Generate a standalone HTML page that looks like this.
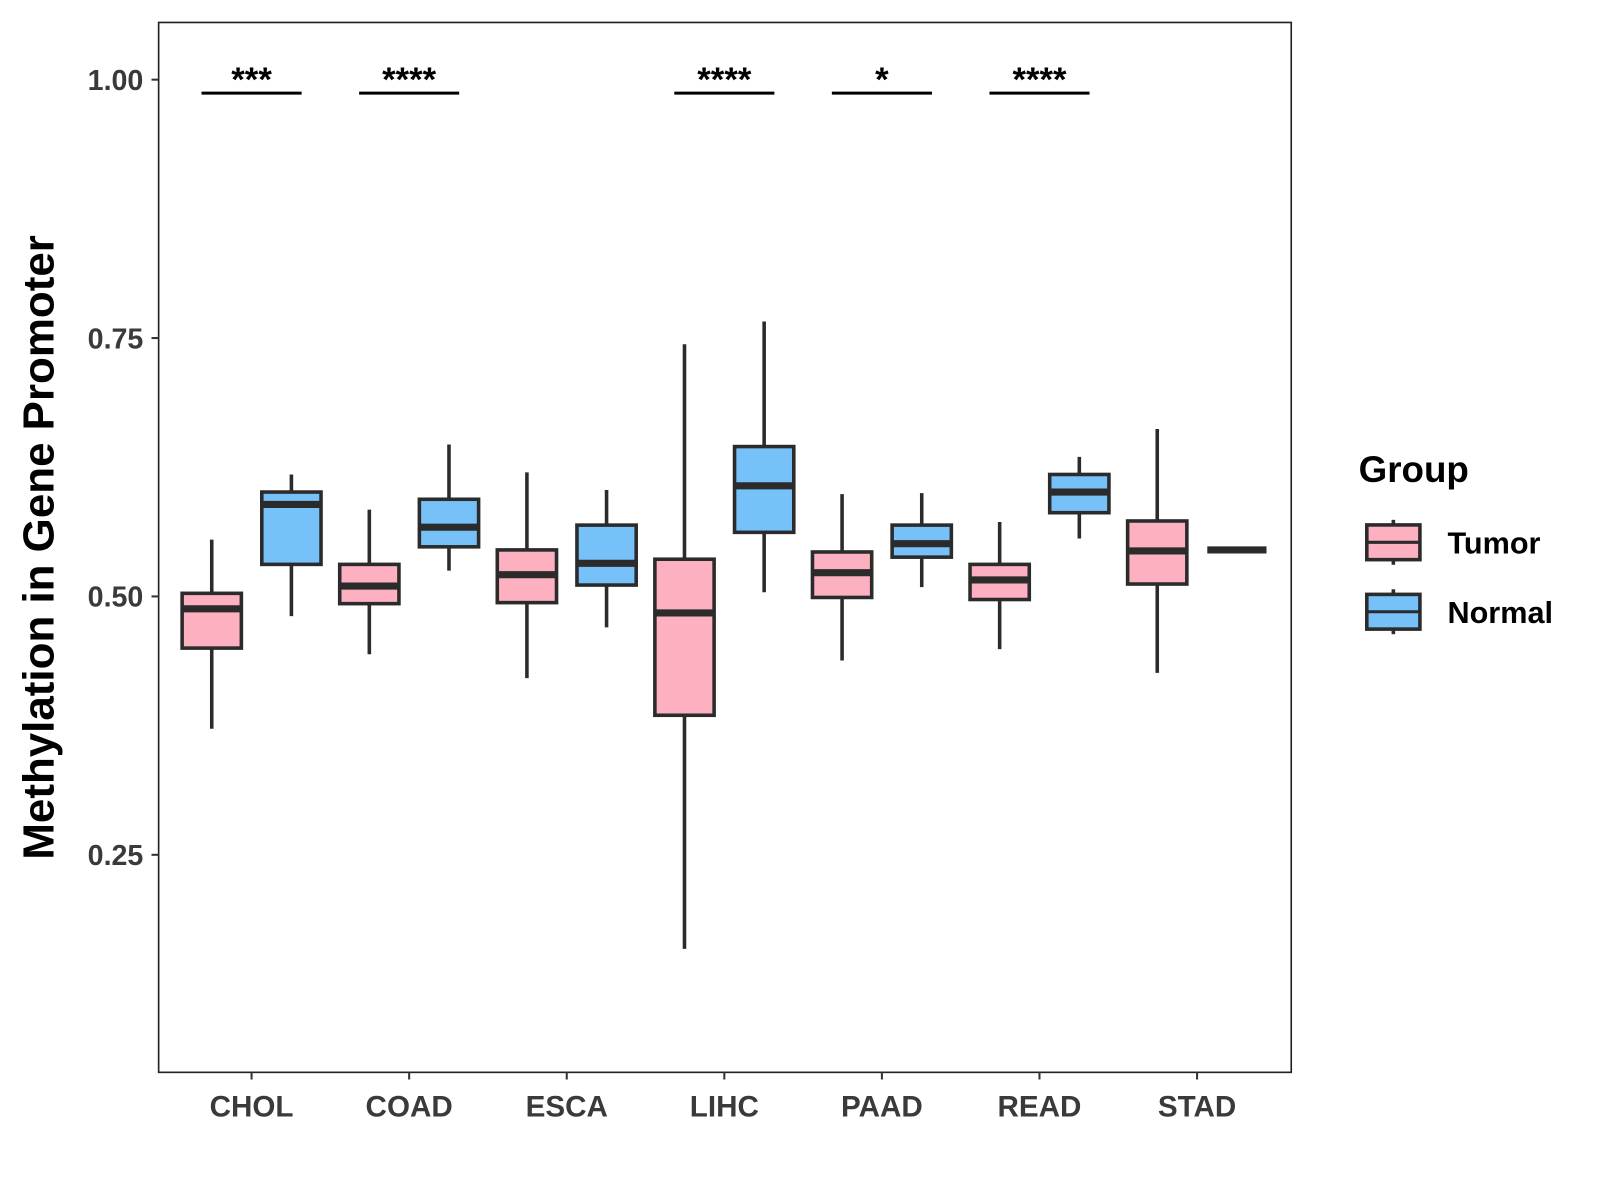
<!DOCTYPE html>
<html><head><meta charset="utf-8"><style>html,body{margin:0;padding:0;background:#fff}svg{display:block}</style></head>
<body>
<svg id="chart" width="1600" height="1200" viewBox="0 0 1566 1175" xmlns="http://www.w3.org/2000/svg" font-family="Liberation Sans, Arial, sans-serif">
<rect width="1566" height="1175" fill="#fff"/>
<g id="plot"></g>
</svg>
<script>
const categories = ["CHOL","COAD","ESCA","LIHC","PAAD","READ","STAD"];
// [lowWhisker, q1, median, q3, highWhisker]
const tumorStats = [
 [0.372,0.450,0.488,0.503,0.555],
 [0.444,0.493,0.510,0.531,0.584],
 [0.421,0.494,0.521,0.545,0.620],
 [0.159,0.385,0.484,0.536,0.744],
 [0.438,0.499,0.523,0.543,0.599],
 [0.449,0.497,0.516,0.531,0.572],
 [0.426,0.512,0.544,0.573,0.662]];
const normalStats = [
 [0.481,0.531,0.589,0.601,0.618],
 [0.525,0.548,0.567,0.594,0.647],
 [0.470,0.511,0.532,0.569,0.603],
 [0.504,0.562,0.607,0.645,0.766],
 [0.509,0.538,0.551,0.569,0.600],
 [0.556,0.581,0.601,0.618,0.635],
 [0.545,0.545,0.545,0.545,0.545]];
const sigLabels = ["***","****","","****","*","****",""];
const yTicks = [0.25,0.50,0.75,1.00];
const yTickLabels = ["0.25","0.50","0.75","1.00"];

const NS="http://www.w3.org/2000/svg";
const P={l:155,r:1264,t:22,b:1050};
const y=v=>584-(v-0.5)*1012;
const x=i=>246+i*154.3;
const g=document.getElementById('plot');
function el(tag,at,parent){const e=document.createElementNS(NS,tag);for(const k in at)e.setAttribute(k,at[k]);(parent||g).appendChild(e);return e;}

const panel=el('rect',{x:P.l,y:P.t,width:P.r-P.l,height:P.b-P.t,fill:'none',stroke:'#222','stroke-width':1.6});



yTicks.forEach((v,i)=>{
 const t=el('line',{x1:P.l-7,x2:P.l,y1:y(v),y2:y(v),stroke:'#333','stroke-width':2});
 
 
 const tx=el('text',{x:P.l-15,y:y(v)+10,'text-anchor':'end','font-size':28,'font-weight':'bold',fill:'#3a3a3a'});
 tx.textContent=yTickLabels[i];
 
 
});
categories.forEach((c,i)=>{
 const t=el('line',{x1:x(i),x2:x(i),y1:P.b,y2:P.b+7,stroke:'#333','stroke-width':2});
 
 
 const tx=el('text',{x:x(i),y:P.b+43,'text-anchor':'middle','font-size':29,'font-weight':'bold',fill:'#3a3a3a'});
 tx.textContent=c;
 
 
});
function box(cx,s,fill,name){
 const gg=el('g',{});
 
 
 const hw=29;
 el('line',{x1:cx,x2:cx,y1:y(s[0]),y2:y(s[4]),stroke:'#2b2b2b','stroke-width':3.5},gg);
 el('rect',{x:cx-hw,y:y(s[3]),width:2*hw,height:Math.max(0,y(s[1])-y(s[3])),fill:fill,stroke:'#2b2b2b','stroke-width':3.5},gg);
 el('line',{x1:cx-hw,x2:cx+hw,y1:y(s[2]),y2:y(s[2]),stroke:'#2b2b2b','stroke-width':7},gg);
}
categories.forEach((c,i)=>{
 box(x(i)-39,tumorStats[i],'#fcb0c0','box-tumor-'+c.toLowerCase());
 box(x(i)+39,normalStats[i],'#76c1f8','box-normal-'+c.toLowerCase());
 if(sigLabels[i]){
  const l=el('line',{x1:x(i)-49,x2:x(i)+49,y1:y(0.987),y2:y(0.987),stroke:'#000','stroke-width':3});
  
  
  const t=el('text',{x:x(i),y:y(0.987)-2,'text-anchor':'middle','font-size':34,'font-weight':'bold',fill:'#000'});
  t.textContent=sigLabels[i];
  
  
 }
});
const yt=el('text',{x:0,y:0,transform:'translate(52,536) rotate(-90)','text-anchor':'middle','font-size':43,'font-weight':'bold',fill:'#000'});
yt.textContent='Methylation in Gene Promoter';



const lt=el('text',{x:1330,y:472,'font-size':36,'font-weight':'bold',fill:'#000'});
lt.textContent='Group';


[['Tumor','#fcb0c0',531],['Normal','#76c1f8',599]].forEach(([n,f,cy])=>{
 const gg=el('g',{});
 
 
 el('line',{x1:1364,x2:1364,y1:cy-22,y2:cy+22,stroke:'#2b2b2b','stroke-width':3.5},gg);
 el('rect',{x:1338,y:cy-17,width:52,height:34,fill:f,stroke:'#2b2b2b','stroke-width':3.5},gg);
 el('line',{x1:1338,x2:1390,y1:cy,y2:cy,stroke:'#2b2b2b','stroke-width':3},gg);
 const t=el('text',{x:1417,y:cy+11,'font-size':30,'font-weight':'bold',fill:'#000'},gg);
 t.textContent=n;
});
</script>
</body></html>
